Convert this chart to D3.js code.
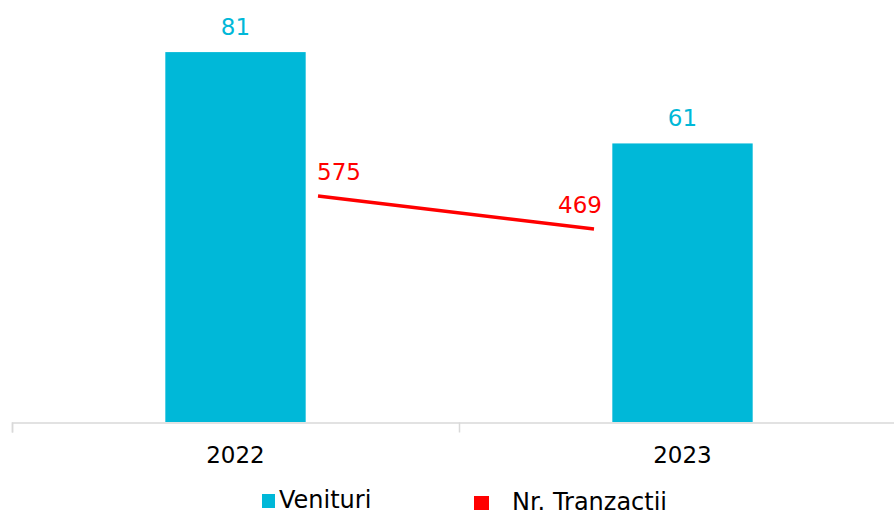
<!DOCTYPE html>
<html>
<head>
<meta charset="utf-8">
<script src="https://cdn.jsdelivr.net/npm/d3@7"></script>
<style>
  body { margin: 0; background: #fff; }
  svg text { font-family: "DejaVu Sans", Verdana, sans-serif; }
</style>
</head>
<body>
<div class="container"></div>
<script>
// Data
const years = ['2022', '2023'];
const venituri = [81, 61];
const tranzactii = [575, 469];
const legendLabels = ['Venituri', 'Nr. Tranzactii'];

const width = 894;
const height = 514;
const cyan = '#00B8D8';
const red = '#FF0000';

const svg = d3.select('.container')
  .append('svg')
  .attr('width', width)
  .attr('height', height);

// Scales
const xScale = d3.scaleBand()
  .domain(years)
  .range([12, 906])
  .paddingInner(0.686)
  .paddingOuter(0.343);

// line sits on its own (secondary) category axis
const xLine = d3.scalePoint()
  .domain(years)
  .range([318, 594]);

const yScale = d3.scaleLinear()
  .domain([0, 90])
  .range([422, 11]);

const y2Scale = d3.scaleLinear()
  .domain([-151, 1169])
  .range([422, 11]);

// Bars
svg.selectAll('rect.bar')
  .data(venituri)
  .enter()
  .append('rect')
  .attr('class', 'bar')
  .attr('x', (d, i) => xScale(years[i]))
  .attr('y', d => yScale(d))
  .attr('width', xScale.bandwidth())
  .attr('height', d => yScale(0) - yScale(d))
  .style('fill', cyan);

// Bar labels
svg.selectAll('text.bar-label')
  .data(venituri)
  .enter()
  .append('text')
  .attr('class', 'bar-label')
  .attr('x', (d, i) => xScale(years[i]) + xScale.bandwidth() / 2)
  .attr('y', d => yScale(d) - 17)
  .attr('text-anchor', 'middle')
  .style('font-size', '23px')
  .style('fill', cyan)
  .text(d => d);

// X axis
const xAxis = d3.axisBottom(d3.scaleLinear().domain([0, 2]).range([12, 906]))
  .tickValues([0, 1, 2])
  .tickSize(10)
  .tickFormat('');

const axisG = svg.append('g')
  .attr('transform', 'translate(0, 422.5)')
  .call(xAxis);
axisG.selectAll('path, line')
  .attr('stroke', '#d9d9d9')
  .attr('stroke-width', 1.5);

svg.selectAll('text.year')
  .data(years)
  .enter()
  .append('text')
  .attr('class', 'year')
  .attr('x', d => xScale(d) + xScale.bandwidth() / 2)
  .attr('y', 463)
  .attr('text-anchor', 'middle')
  .style('font-size', '23px')
  .style('fill', '#000')
  .text(d => d);

// Line
const line = d3.line()
  .x((d, i) => xLine(years[i]))
  .y(d => y2Scale(d));

svg.append('path')
  .datum(tranzactii)
  .attr('d', line)
  .attr('fill', 'none')
  .attr('stroke', red)
  .attr('stroke-width', 3.5);

// Line labels
svg.selectAll('text.line-label')
  .data(tranzactii)
  .enter()
  .append('text')
  .attr('class', 'line-label')
  .attr('x', (d, i) => i === 0 ? xLine(years[i]) - 1 : xLine(years[i]) + 8)
  .attr('y', d => y2Scale(d) - 16)
  .attr('text-anchor', (d, i) => i === 0 ? 'start' : 'end')
  .style('font-size', '23px')
  .style('fill', red)
  .text(d => d);

// Legend
const legend = svg.append('g');
legend.append('rect')
  .attr('x', 262).attr('y', 494)
  .attr('width', 13).attr('height', 14)
  .style('fill', cyan);
legend.append('text')
  .attr('x', 279).attr('y', 508)
  .style('font-size', '24px')
  .text(legendLabels[0]);
legend.append('rect')
  .attr('x', 474).attr('y', 496)
  .attr('width', 15).attr('height', 14)
  .style('fill', red);
legend.append('text')
  .attr('x', 512).attr('y', 510)
  .style('font-size', '24px')
  .text(legendLabels[1]);
</script>
</body>
</html>
